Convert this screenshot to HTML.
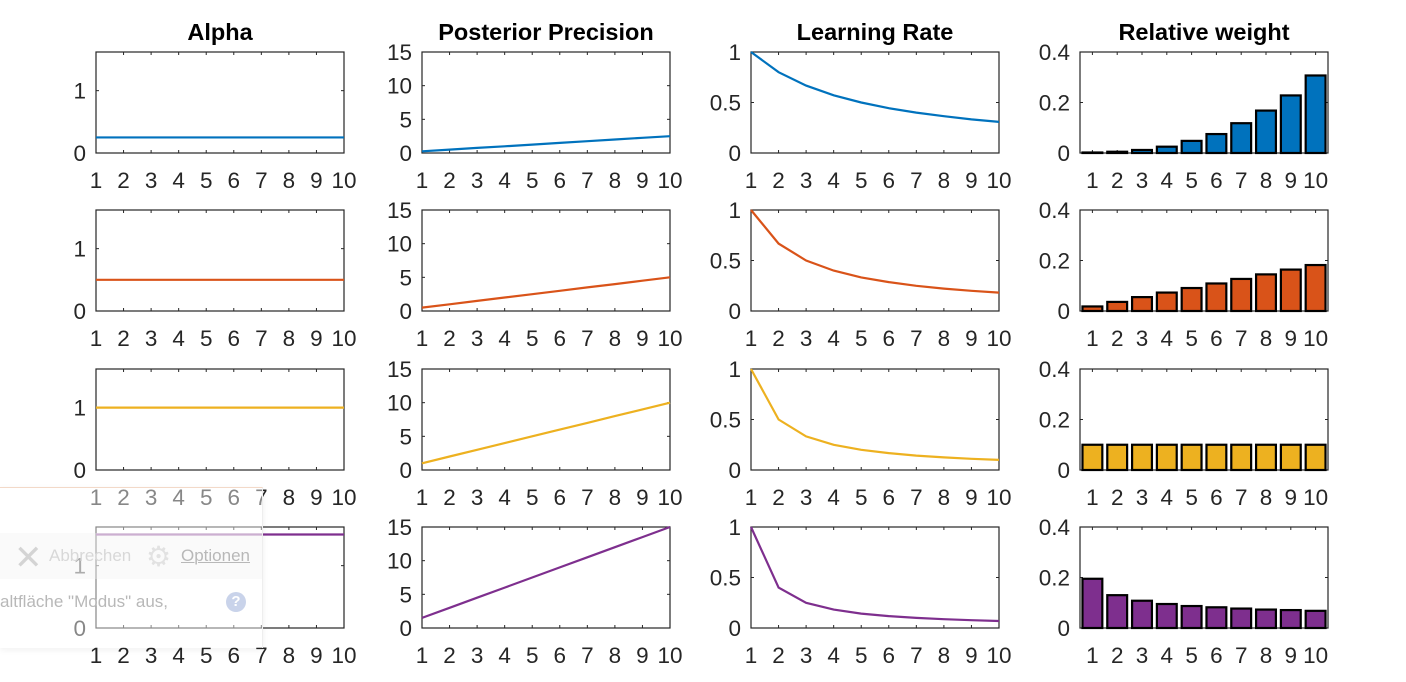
<!DOCTYPE html>
<html><head><meta charset="utf-8"><style>
body{margin:0;background:#fff;width:1406px;height:682px;overflow:hidden;position:relative;font-family:"Liberation Sans",Arial,sans-serif}
svg{position:absolute;left:0;top:0}
#overlay{position:absolute;left:0;top:487px;width:262px;height:160px;background:rgba(255,255,255,0.45);border-top:1px solid #f3d9c8;border-right:1px solid #eee;box-shadow:0 2px 6px rgba(0,0,0,0.06)}
#band{position:absolute;left:0;top:45px;width:262px;height:46px;background:rgba(240,240,240,0.35)}
.ot{position:absolute;color:#c8c8c8;font-size:17px;font-family:"Liberation Sans",sans-serif}
</style></head><body>
<svg id="chart" width="1406" height="682"></svg>
<div id="overlay">
<div id="band"></div>
<div class="ot" style="left:14px;top:50px;font-size:34px;color:#d4d4d4">✕</div>
<div class="ot" style="left:49px;top:58px;color:#d8d8d8">Abbrechen</div>
<div class="ot" style="left:146px;top:52px;font-size:28px;color:#e2e2e2">⚙</div>
<div class="ot" style="left:181px;top:58px;color:#b8b8b8;text-decoration:underline;text-decoration-thickness:1px">Optionen</div>
<div class="ot" style="left:0;top:104px;color:#b8b8b8">altfläche "Modus" aus,</div>
<div class="ot" style="left:226px;top:104px;width:20px;height:20px;border-radius:50%;background:#c9d3ea;color:#fff;font-weight:bold;font-size:15px;text-align:center;line-height:20px">?</div>
</div>
<script>
const colors=["#0072BD","#D95319","#EDB120","#7E2F8E"];
const titles=["Alpha","Posterior Precision","Learning Rate","Relative weight"];
const xCats=[1,2,3,4,5,6,7,8,9,10];
const alphaVals=[0.25,0.5,1.0,1.5];
const precision=[
[0.25,0.5,0.75,1.0,1.25,1.5,1.75,2.0,2.25,2.5],
[0.5,1.0,1.5,2.0,2.5,3.0,3.5,4.0,4.5,5.0],
[1,2,3,4,5,6,7,8,9,10],
[1.5,3,4.5,6,7.5,9,10.5,12,13.5,15]];
const lrate=[
[1,0.8,0.667,0.571,0.5,0.444,0.4,0.364,0.333,0.308],
[1,0.667,0.5,0.4,0.333,0.286,0.25,0.222,0.2,0.182],
[1,0.5,0.333,0.25,0.2,0.167,0.143,0.125,0.111,0.1],
[1,0.4,0.25,0.182,0.143,0.118,0.1,0.087,0.077,0.069]];
const weights=[
[0.002,0.005,0.012,0.025,0.048,0.075,0.118,0.168,0.228,0.307],
[0.018,0.036,0.055,0.073,0.091,0.109,0.127,0.145,0.164,0.182],
[0.1,0.1,0.1,0.1,0.1,0.1,0.1,0.1,0.1,0.1],
[0.195,0.13,0.108,0.095,0.087,0.082,0.077,0.073,0.071,0.068]];
const yTicks=[[0,1],[0,5,10,15],[0,0.5,1],[0,0.2,0.4]];
const yTickLabels=[["0","1"],["0","5","10","15"],["0","0.5","1"],["0","0.2","0.4"]];
const yMax=[1.62,15,1,0.4];

const NS="http://www.w3.org/2000/svg";
const svg=document.getElementById('chart');
function mk(t,a,p){const e=document.createElementNS(NS,t);for(const k in a)e.setAttribute(k,a[k]);(p||svg).appendChild(e);return e;}
const colX=[96,422,751,1080], W=248, rowY=[52,210,369,527], H=101;

for(let c=0;c<4;c++){
  const t=mk('text',{x:colX[c]+W/2,y:40,'text-anchor':'middle','font-size':23.5,'font-weight':'bold',fill:'#000'});
  t.textContent=titles[c];
  
  
  for(let r=0;r<4;r++){
    const x0=colX[c],y0=rowY[r];
    const g=mk('g',{});
    
    
    const bar=c===3;
    const xs=v=>bar? x0+(v-0.5)/10*W : x0+(v-1)/9*W;
    const ys=v=>y0+H-v/yMax[c]*H;
    mk('rect',{x:x0,y:y0,width:W,height:H,fill:'#fff',stroke:'#262626','stroke-width':1.2},g);
    xCats.forEach(v=>{
      const X=xs(v);
      mk('line',{x1:X,y1:y0+H,x2:X,y2:y0+H-3,stroke:'#262626'},g);
      mk('line',{x1:X,y1:y0,x2:X,y2:y0+3,stroke:'#262626'},g);
      const tl=mk('text',{x:X,y:y0+H+35,'text-anchor':'middle','font-size':22.5,fill:'#262626'},g);
      tl.textContent=String(v);
      
      
    });
    yTicks[c].forEach((v,i)=>{
      const Y=ys(v);
      mk('line',{x1:x0,y1:Y,x2:x0+3,y2:Y,stroke:'#262626'},g);
      mk('line',{x1:x0+W,y1:Y,x2:x0+W-3,y2:Y,stroke:'#262626'},g);
      const tl=mk('text',{x:x0-10,y:Y+8,'text-anchor':'end','font-size':22.5,fill:'#262626'},g);
      tl.textContent=yTickLabels[c][i];
      
      
    });
    if(c===0){
      const Y=ys(alphaVals[r]);
      const l=mk('line',{x1:x0,y1:Y,x2:x0+W,y2:Y,stroke:colors[r],'stroke-width':2.2},g);
      
      
    } else if(c<3){
      const d=(c===1?precision:lrate)[r];
      const pts=d.map((v,i)=>xs(xCats[i]).toFixed(1)+','+ys(v).toFixed(1)).join(' ');
      const l=mk('polyline',{points:pts,fill:'none',stroke:colors[r],'stroke-width':2.2},g);
      
      
    } else {
      weights[r].forEach((v,i)=>{
        const X=xs(xCats[i]), bw=0.8/10*W;
        const b=mk('rect',{x:X-bw/2,y:ys(v),width:bw,height:y0+H-ys(v),fill:colors[r],stroke:'#000','stroke-width':2.2},g);
        
        
      });
    }
  }
}
</script>
</body></html>
